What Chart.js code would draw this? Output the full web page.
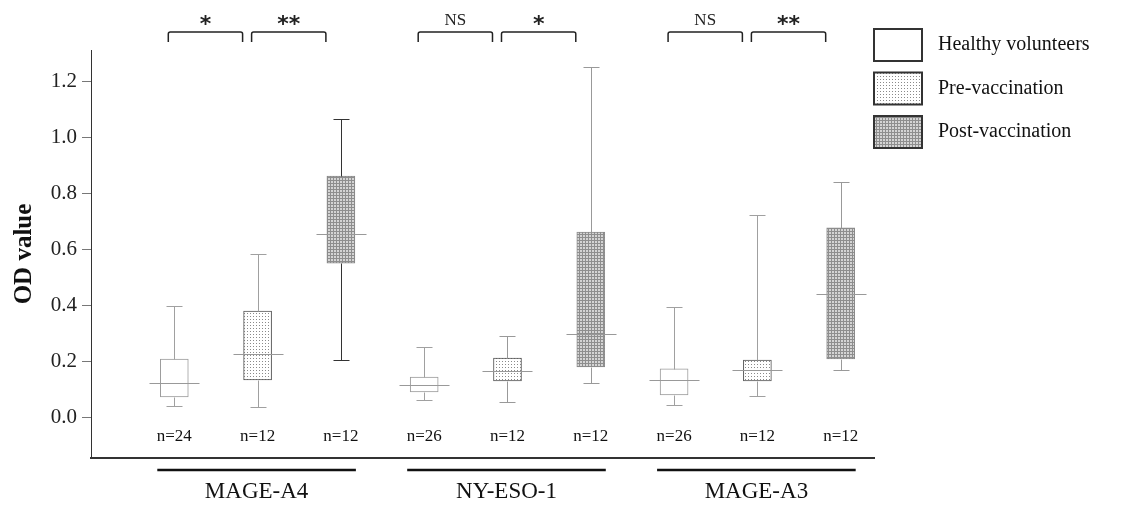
<!DOCTYPE html>
<html lang="en">
<head>
<meta charset="UTF-8">
<title>OD value</title>
<script src="https://cdn.jsdelivr.net/npm/chart.js"></script>
<style>
  body { margin: 0; background: #fff; }
  #wrap { width: 1121px; height: 505px; }
</style>
</head>
<body>
<div id="wrap"><canvas id="grafico" width="1121" height="505"></canvas></div>
<script>
// data: [min, q1, median, q3, max] per antigen
const grupos = ['MAGE-A4', 'NY-ESO-1', 'MAGE-A3']
const series = ['Healthy volunteers', 'Pre-vaccination', 'Post-vaccination']
const healthy = [
  [0.043, 0.075, 0.125, 0.210, 0.400],
  [0.064, 0.093, 0.118, 0.146, 0.254],
  [0.046, 0.082, 0.136, 0.175, 0.396]
]
const preVac = [
  [0.039, 0.136, 0.229, 0.382, 0.586],
  [0.057, 0.132, 0.168, 0.214, 0.293],
  [0.079, 0.132, 0.171, 0.207, 0.725]
]
const postVac = [
  [0.207, 0.553, 0.657, 0.864, 1.068],
  [0.125, 0.182, 0.300, 0.664, 1.254],
  [0.171, 0.211, 0.443, 0.679, 0.843]
]
const nLabels = [
  ['n=24', 'n=12', 'n=12'],
  ['n=26', 'n=12', 'n=12'],
  ['n=26', 'n=12', 'n=12']
]
const sigLabels = [['*', '**'], ['NS', '*'], ['NS', '**']]
const yTicks = [0, 0.2, 0.4, 0.6, 0.8, 1.0, 1.2]

const stats = [healthy, preVac, postVac]
const serif = '"Liberation Serif", "Times New Roman", serif'

function padrao(fundo, ponto, tam, pontos) {
  const c = document.createElement('canvas')
  c.width = tam; c.height = tam
  const g = c.getContext('2d')
  g.fillStyle = fundo
  g.fillRect(0, 0, tam, tam)
  g.fillStyle = ponto
  for (const p of pontos) g.fillRect(p[0], p[1], 1, 1)
  return g.createPattern(c, 'repeat')
}

const fills = [
  '#ffffff',
  padrao('#ffffff', '#8a8a8a', 3, [[1, 1]]),
  padrao('#d4d4d4', '#8e8e8e', 3, [[0, 0], [1, 0], [2, 0], [0, 1], [0, 2]])
]
const bordas = ['#9a9a9a', '#555555', '#8a8a8a']
const bigodes = [
  ['#a0a0a0', '#a0a0a0', '#333333'],
  ['#a0a0a0', '#999999', '#999999'],
  ['#a0a0a0', '#a0a0a0', '#999999']
]

const ctx = document.getElementById('grafico')

const desenhos = {
  id: 'desenhos',
  afterDatasetsDraw(chart) {
    const c = chart.ctx
    const xs = chart.scales.x
    const ys = chart.scales.y
    c.save()
    // whiskers and medians
    stats.forEach((serie, s) => {
      serie.forEach((v, gi) => {
        const x = Math.round(xs.getPixelForValue(gi * 3 + s + 1)) + 0.5
        const py = val => Math.round(ys.getPixelForValue(val)) + 0.5
        c.lineWidth = 1
        c.strokeStyle = bigodes[gi][s]
        c.beginPath()
        c.moveTo(x, py(v[3])); c.lineTo(x, py(v[4]))
        c.moveTo(x - 8, py(v[4])); c.lineTo(x + 8, py(v[4]))
        c.moveTo(x, py(v[1])); c.lineTo(x, py(v[0]))
        c.moveTo(x - 8, py(v[0])); c.lineTo(x + 8, py(v[0]))
        c.stroke()
        c.strokeStyle = '#999999'
        c.beginPath()
        c.moveTo(x - 25, py(v[2])); c.lineTo(x + 25, py(v[2]))
        c.stroke()
      })
    })
    // n labels
    c.fillStyle = '#111'
    c.font = '17px ' + serif
    c.textAlign = 'center'
    c.textBaseline = 'middle'
    nLabels.forEach((linha, gi) => {
      linha.forEach((t, s) => {
        c.fillText(t, xs.getPixelForValue(gi * 3 + s + 1), 437)
      })
    })
    // group lines and labels under the axis
    grupos.forEach((g, gi) => {
      const x0 = xs.getPixelForValue(gi * 3 + 1) - 17
      const x1 = xs.getPixelForValue(gi * 3 + 3) + 15
      c.strokeStyle = '#111'
      c.lineWidth = 2.5
      c.beginPath()
      c.moveTo(x0, 470); c.lineTo(x1, 470)
      c.stroke()
      c.fillStyle = '#111'
      c.font = '23px ' + serif
      c.fillText(g, (x0 + x1) / 2, 492)
    })
    // significance brackets
    sigLabels.forEach((par, gi) => {
      par.forEach((t, k) => {
        const a = xs.getPixelForValue(gi * 3 + k + 1) - 6
        const b = xs.getPixelForValue(gi * 3 + k + 2) - 15
        c.strokeStyle = '#222'
        c.lineWidth = 1.5
        c.beginPath()
        c.moveTo(a, 42); c.lineTo(a, 34)
        c.quadraticCurveTo(a, 32, a + 2, 32)
        c.lineTo(b - 2, 32)
        c.quadraticCurveTo(b, 32, b, 34)
        c.lineTo(b, 42)
        c.stroke()
        c.fillStyle = '#222'
        if (t == 'NS') {
          c.font = '17px ' + serif
          c.fillText(t, (a + b) / 2, 21)
        } else {
          c.font = 'bold 22px "DejaVu Sans", sans-serif'
          c.fillText(t, (a + b) / 2, 25)
        }
      })
    })
    // legend
    series.forEach((nome, s) => {
      const y0 = 29 + s * 43.5
      c.fillStyle = fills[s]
      c.fillRect(874, y0, 48, 32)
      c.strokeStyle = '#333'
      c.lineWidth = 2
      c.strokeRect(874, y0, 48, 32)
      c.fillStyle = '#111'
      c.font = '20px ' + serif
      c.textAlign = 'left'
      c.fillText(nome, 938, y0 + 16)
      c.textAlign = 'center'
    })
    c.restore()
  }
}

const grafico = new Chart(ctx, {
  type: 'bar',
  data: {
    datasets: series.map((nome, s) => ({
      label: nome,
      data: grupos.map((g, gi) => ({ x: gi * 3 + s + 1, y: [stats[s][gi][1], stats[s][gi][3]] })),
      backgroundColor: fills[s],
      borderColor: bordas[s],
      borderWidth: 1,
      borderSkipped: false,
      barThickness: 28,
      grouped: false
    }))
  },
  options: {
    responsive: false,
    animation: false,
    layout: { padding: { top: 50, right: 247, bottom: 47, left: 0 } },
    plugins: { legend: { display: false }, tooltip: { enabled: false } },
    scales: {
      x: {
        type: 'linear',
        min: 0,
        max: 9.4,
        offset: false,
        grid: { display: false, drawTicks: false, offset: false },
        ticks: { display: false },
        border: { color: '#333', width: 2 },
        afterFit(scale) { scale.height = 0 }
      },
      y: {
        min: -0.143,
        max: 1.314,
        afterBuildTicks(scale) { scale.ticks = yTicks.map(v => ({ value: v })) },
        afterFit(scale) { scale.width = 91 },
        grid: { drawOnChartArea: false, drawTicks: true, tickLength: 9, color: '#777' },
        border: { color: '#333', width: 1 },
        ticks: {
          color: '#222',
          padding: 5,
          font: { family: serif, size: 21 },
          callback: v => Number(v).toFixed(1)
        },
        title: {
          display: true,
          text: 'OD value',
          color: '#111',
          font: { family: serif, size: 25, weight: 'bold' },
          padding: { top: 10, bottom: 0 }
        }
      }
    }
  },
  plugins: [desenhos]
})
</script>
</body>
</html>
